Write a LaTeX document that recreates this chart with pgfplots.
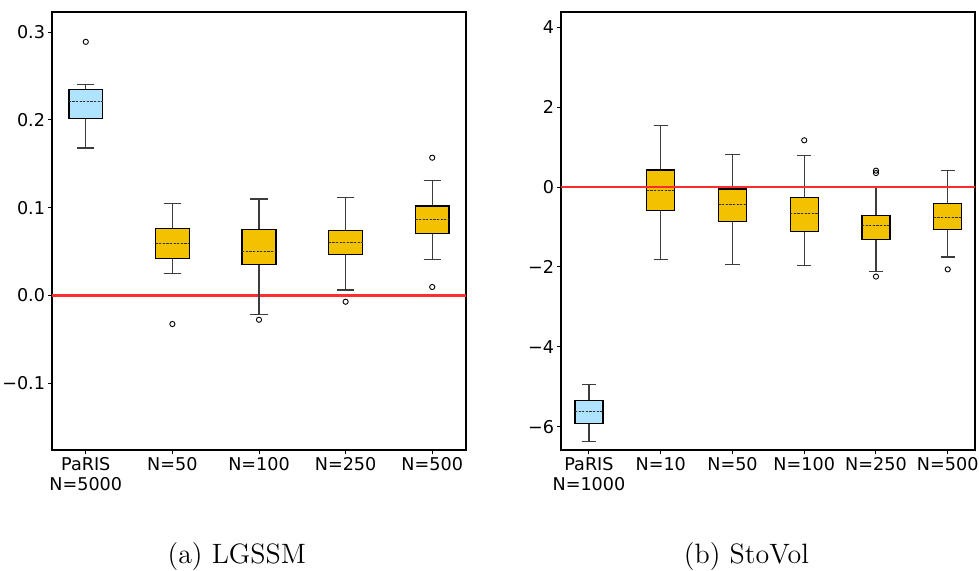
\documentclass[border=0pt]{standalone}
\usepackage{fontspec}
\setsansfont{DejaVu Sans}
\usepackage{pgfplots}
\pgfplotsset{compat=1.18}
\usepgfplotslibrary{statistics}

\definecolor{boxgold}{RGB}{242,193,0}
\definecolor{boxblue}{RGB}{176,227,255}
\definecolor{zeroline}{RGB}{255,45,45}
\definecolor{whisk}{RGB}{60,60,60}

% common look of both panels (1 px of the reference = 0.5pt)
\pgfplotsset{
  bxpanel/.style={
    scale only axis, width=207pt, height=219pt,
    axis line style={black, line width=0.6pt},
    tick align=outside, tick pos=left,
    major tick length=1.8pt,
    tick style={black, line width=0.5pt},
    ticklabel style={font=\fontsize{8.8}{10}\selectfont\sffamily},
    xticklabel style={align=center, inner sep=1.5pt},
    yticklabel style={inner sep=1.5pt},
    xtick={0,...,5},
    boxplot/draw direction=y,
    boxplot/box extend=0.39,
    boxplot/whisker extend=0.2,
    boxplot/every median/.style={black!80, line width=0.5pt, dash pattern=on 1.1pt off 0.7pt},
    boxplot/every whisker/.style={whisk, line width=0.6pt},
    boxplot/every box/.style={line width=0.65pt},
  },
  goldbox/.style={draw=black, fill=boxgold, mark=o, mark size=1.3pt,
    mark options={solid, black, line width=0.45pt, fill=none}},
  bluebox/.style={draw=black, fill=boxblue, mark=o, mark size=1.3pt,
    mark options={solid, black, line width=0.45pt, fill=none}},
  zeroref/.style={color=zeroline, line width=0.85pt, mark=none, forget plot},
}

\begin{document}
\begin{tikzpicture}
\useasboundingbox (0,0) rectangle (489.5pt,-285.5pt);

% (a) LGSSM
\begin{axis}[bxpanel,
  at={(26pt,-225pt)}, anchor=south west,
  xmin=-0.39, xmax=4.39, ymin=-0.176, ymax=0.323,
  xticklabels={{PaRIS\\N=5000},N=50,N=100,N=250,N=500},
  ytick={-0.1,0,0.1,0.2,0.3},
  yticklabels={−0.1,0.0,0.1,0.2,0.3},
]
\addplot[zeroref, line width=1.15pt] coordinates {(-0.39,0) (4.39,0)};
\addplot[bluebox, boxplot prepared={draw position=0,
  lower whisker=0.168, lower quartile=0.202, median=0.221,
  upper quartile=0.235, upper whisker=0.240}]
  table[row sep=\\, y index=0] {v\\ 0.289\\};
\addplot[goldbox, boxplot prepared={draw position=1,
  lower whisker=0.025, lower quartile=0.042, median=0.059,
  upper quartile=0.076, upper whisker=0.105}]
  table[row sep=\\, y index=0] {v\\ -0.0325\\};
\addplot[goldbox, boxplot prepared={draw position=2,
  lower whisker=-0.0215, lower quartile=0.0356, median=0.050,
  upper quartile=0.075, upper whisker=0.110}]
  table[row sep=\\, y index=0] {v\\ -0.0276\\};
\addplot[goldbox, boxplot prepared={draw position=3,
  lower whisker=0.0063, lower quartile=0.0466, median=0.060,
  upper quartile=0.074, upper whisker=0.112}]
  table[row sep=\\, y index=0] {v\\ -0.0071\\};
\addplot[goldbox, boxplot prepared={draw position=4,
  lower whisker=0.041, lower quartile=0.071, median=0.0865,
  upper quartile=0.102, upper whisker=0.131}]
  table[row sep=\\, y index=0] {v\\ 0.157\\ 0.0097\\};
\end{axis}

% (b) StoVol
\begin{axis}[bxpanel,
  at={(280.5pt,-225pt)}, anchor=south west,
  xmin=-0.39, xmax=5.38, ymin=-6.58, ymax=4.38,
  xticklabels={{PaRIS\\N=1000},N=10,N=50,N=100,N=250,N=500},
  ytick={-6,-4,-2,0,2,4},
  yticklabels={−6,−4,−2,0,2,4},
]
\addplot[bluebox, boxplot prepared={draw position=0,
  lower whisker=-6.37, lower quartile=-5.92, median=-5.62,
  upper quartile=-5.35, upper whisker=-4.94}]
  coordinates {};
\addplot[goldbox, boxplot prepared={draw position=1,
  lower whisker=-1.82, lower quartile=-0.59, median=-0.09,
  upper quartile=0.43, upper whisker=1.53}]
  coordinates {};
\addplot[goldbox, boxplot prepared={draw position=2,
  lower whisker=-1.94, lower quartile=-0.86, median=-0.44,
  upper quartile=-0.05, upper whisker=0.82}]
  coordinates {};
\addplot[goldbox, boxplot prepared={draw position=3,
  lower whisker=-1.96, lower quartile=-1.12, median=-0.65,
  upper quartile=-0.26, upper whisker=0.78}]
  table[row sep=\\, y index=0] {v\\ 1.17\\};
\addplot[goldbox, boxplot prepared={draw position=4,
  lower whisker=-2.12, lower quartile=-1.31, median=-0.97,
  upper quartile=-0.71, upper whisker=0.0}]
  table[row sep=\\, y index=0] {v\\ 0.41\\ 0.35\\ -2.24\\};
\addplot[goldbox, boxplot prepared={draw position=5,
  lower whisker=-1.75, lower quartile=-1.07, median=-0.77,
  upper quartile=-0.42, upper whisker=0.42}]
  table[row sep=\\, y index=0] {v\\ -2.06\\};
\addplot[zeroref] coordinates {(-1,0) (7,0)};
\end{axis}

\node[anchor=base, font=\fontsize{14}{16}\selectfont, inner sep=0pt] at (118.4pt,-281.5pt) {(a) LGSSM};
\node[anchor=base, font=\fontsize{14}{16}\selectfont, inner sep=0pt] at (373.2pt,-281.5pt) {(b) StoVol};
\end{tikzpicture}
\end{document}
